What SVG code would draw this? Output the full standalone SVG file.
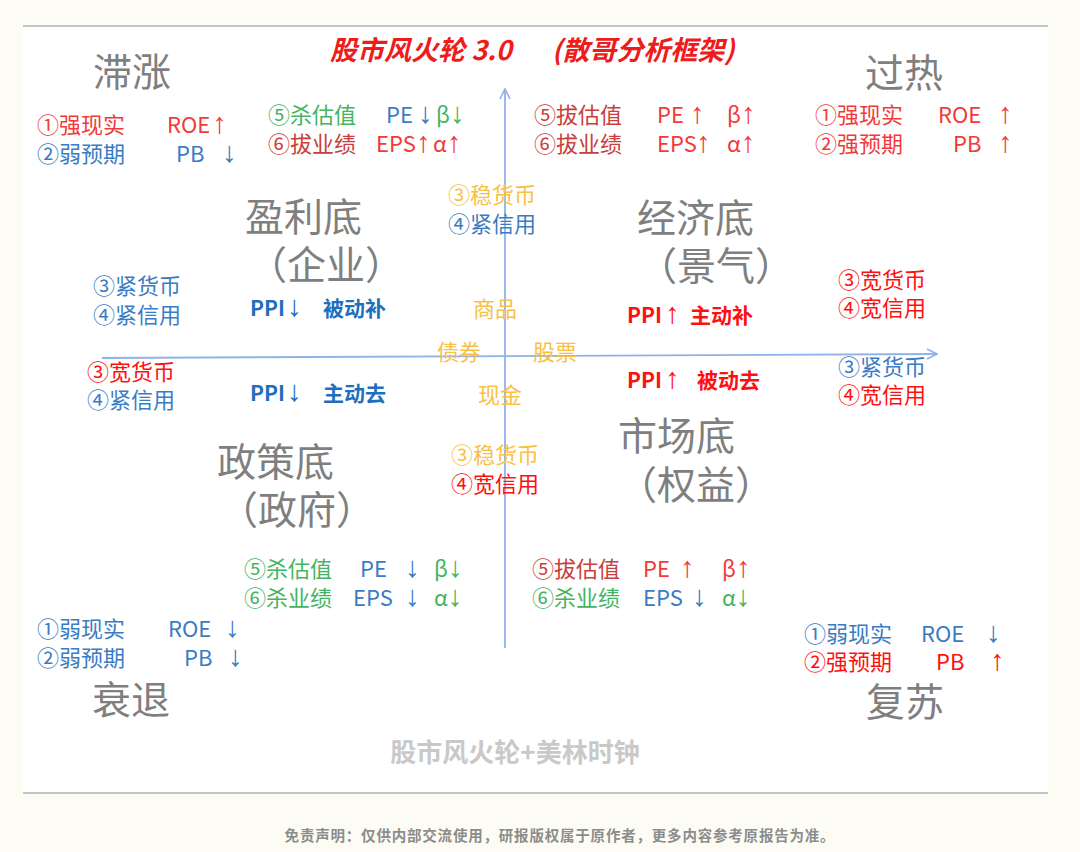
<svg xmlns="http://www.w3.org/2000/svg" width="1080" height="852" viewBox="0 0 1080 852">
<style>
text{font-family:"Noto Sans CJK SC","Noto Sans",sans-serif;}
.big{font-size:39px;fill:#7f7f7f;}
.s{font-size:22px;}
.b{font-size:21px;font-weight:bold;}
.r{fill:#f23a3a;}
.rr{fill:#ff1010;}
.dr{fill:#c8403c;}
.bl{fill:#3a7cc4;}
.bb{fill:#1f6fbf;}
.g{fill:#45b45e;}
.o{fill:#f8c146;}
.ar,.s.ar{font-family:"Liberation Sans","DejaVu Sans",sans-serif;font-size:29px;font-weight:normal;}
.axis{stroke:#8fb2e6;stroke-width:1.8;fill:none;}
</style>
<defs>
<marker id="ah" viewBox="0 0 12 12" refX="11" refY="6" markerWidth="12" markerHeight="12" markerUnits="userSpaceOnUse" orient="auto">
<path d="M1,1 L11,6 L1,11" fill="none" stroke="#8fb2e6" stroke-width="1.6"/>
</marker>
</defs>
<rect x="0" y="0" width="1080" height="852" fill="#fdfcf4"/>
<rect x="23" y="26" width="1025" height="767" fill="#ffffff"/>
<line x1="23" y1="26" x2="1048" y2="26" stroke="#c4c4c4" stroke-width="2"/>
<line x1="23" y1="793" x2="1048" y2="793" stroke="#c4c4c4" stroke-width="2"/>

<g id="connectors">
<line class="axis" x1="505" y1="648" x2="505" y2="89" marker-end="url(#ah)"/>
<line class="axis" x1="102" y1="358" x2="937" y2="354" marker-end="url(#ah)"/>
</g>

<g id="title">
<text x="330" y="60" font-size="27" font-weight="bold" font-style="italic" fill="#ee1c1c">股市风火轮 3.0</text>
<text x="552" y="60" font-size="27" font-weight="bold" font-style="italic" fill="#ee1c1c">(散哥分析框架)</text>
</g>

<g id="stagflation">
<text class="big" x="93" y="86">滞涨</text>
<text class="s r" x="37" y="133">①强现实</text>
<text class="s r" x="167" y="133">ROE<tspan class="ar" dx="2">↑</tspan></text>
<text class="s bl" x="37" y="162">②弱预期</text>
<text class="s bl" x="176" y="162">PB</text>
<text class="s bl ar" x="222" y="162">↓</text>
</g>

<g id="top-left-val">
<text class="s g" x="268" y="123">⑤杀估值</text>
<text class="s bl" x="386" y="123">PE</text>
<text class="s bl ar" x="418" y="123">↓</text>
<text class="s g" x="436" y="123">β<tspan class="ar">↓</tspan></text>
<text class="s dr" x="268" y="152">⑥拔业绩</text>
<text class="s r" x="376" y="152">EPS</text>
<text class="s r ar" x="416" y="152">↑</text>
<text class="s r" x="433" y="152">α<tspan class="ar">↑</tspan></text>
</g>

<g id="top-right-val">
<text class="s dr" x="534" y="123">⑤拔估值</text>
<text class="s r" x="657" y="123">PE</text>
<text class="s r ar" x="690" y="123">↑</text>
<text class="s r" x="727" y="123">β<tspan class="ar">↑</tspan></text>
<text class="s dr" x="534" y="152">⑥拔业绩</text>
<text class="s r" x="657" y="152">EPS</text>
<text class="s r ar" x="696" y="152">↑</text>
<text class="s r" x="727" y="152">α<tspan class="ar">↑</tspan></text>
</g>

<g id="overheat">
<text class="big" x="865" y="87">过热</text>
<text class="s r" x="815" y="123">①强现实</text>
<text class="s r" x="938" y="123">ROE</text>
<text class="s r ar" x="998" y="123">↑</text>
<text class="s r" x="815" y="152">②强预期</text>
<text class="s r" x="953" y="152">PB</text>
<text class="s r ar" x="998" y="152">↑</text>
</g>

<g id="profit-bottom">
<text class="big" x="245" y="231">盈利底</text>
<text class="big" x="248" y="279">（企业）</text>
<text class="b bb" x="250" y="316">PPI<tspan class="ar" dx="2">↓</tspan></text>
<text class="b bb" x="323" y="316">被动补</text>
<text class="b bb" x="250" y="401">PPI<tspan class="ar" dx="2">↓</tspan></text>
<text class="b bb" x="323" y="401">主动去</text>
</g>

<g id="top-center">
<text class="s o" x="448" y="203">③稳货币</text>
<text class="s bl" x="448" y="232">④紧信用</text>
</g>

<g id="left-policy">
<text class="s bl" x="93" y="294">③紧货币</text>
<text class="s bl" x="93" y="323">④紧信用</text>
<text class="s rr" x="87" y="380">③宽货币</text>
<text class="s bl" x="87" y="408">④紧信用</text>
</g>

<g id="assets">
<text class="s o" x="473" y="317">商品</text>
<text class="s o" x="437" y="360">债券</text>
<text class="s o" x="533" y="360">股票</text>
<text class="s o" x="478" y="403">现金</text>
</g>

<g id="economy-bottom">
<text class="big" x="637" y="232">经济底</text>
<text class="big" x="638" y="280">（景气）</text>
<text class="b rr" x="627" y="323">PPI<tspan class="ar" dx="3">↑</tspan></text>
<text class="b rr" x="690" y="323">主动补</text>
<text class="b rr" x="627" y="388">PPI<tspan class="ar" dx="3">↑</tspan></text>
<text class="b rr" x="697" y="388">被动去</text>
</g>

<g id="right-policy">
<text class="s rr" x="838" y="288">③宽货币</text>
<text class="s rr" x="838" y="316">④宽信用</text>
<text class="s bl" x="838" y="375">③紧货币</text>
<text class="s rr" x="838" y="403">④宽信用</text>
</g>

<g id="policy-bottom">
<text class="big" x="217" y="476">政策底</text>
<text class="big" x="219" y="524">（政府）</text>
</g>

<g id="bottom-center">
<text class="s o" x="451" y="463">③稳货币</text>
<text class="s rr" x="451" y="492">④宽信用</text>
</g>

<g id="market-bottom">
<text class="big" x="618" y="450">市场底</text>
<text class="big" x="618" y="499">（权益）</text>
</g>

<g id="bottom-left-val">
<text class="s g" x="244" y="577">⑤杀估值</text>
<text class="s bl" x="360" y="577">PE</text>
<text class="s bl ar" x="405" y="577">↓</text>
<text class="s g" x="434" y="577">β<tspan class="ar">↓</tspan></text>
<text class="s g" x="244" y="606">⑥杀业绩</text>
<text class="s bl" x="353" y="606">EPS</text>
<text class="s bl ar" x="405" y="606">↓</text>
<text class="s g" x="434" y="606">α<tspan class="ar">↓</tspan></text>
</g>

<g id="bottom-right-val">
<text class="s dr" x="532" y="577">⑤拔估值</text>
<text class="s r" x="643" y="577">PE</text>
<text class="s r ar" x="680" y="577">↑</text>
<text class="s r" x="722" y="577">β<tspan class="ar">↑</tspan></text>
<text class="s g" x="532" y="606">⑥杀业绩</text>
<text class="s bl" x="643" y="606">EPS</text>
<text class="s bl ar" x="692" y="606">↓</text>
<text class="s g" x="722" y="606">α<tspan class="ar">↓</tspan></text>
</g>

<g id="recession">
<text class="s bl" x="37" y="637">①弱现实</text>
<text class="s bl" x="168" y="637">ROE</text>
<text class="s bl ar" x="225" y="637">↓</text>
<text class="s bl" x="37" y="666">②弱预期</text>
<text class="s bl" x="184" y="666">PB</text>
<text class="s bl ar" x="228" y="666">↓</text>
<text class="big" x="92" y="714">衰退</text>
</g>

<g id="recovery">
<text class="s bl" x="804" y="642">①弱现实</text>
<text class="s bl" x="921" y="642">ROE</text>
<text class="s bl ar" x="986" y="642">↓</text>
<text class="s rr" x="804" y="670">②强预期</text>
<text class="s rr" x="936" y="670">PB</text>
<text class="s rr ar" x="990" y="670">↑</text>
<text class="big" x="866" y="716">复苏</text>
</g>

<g id="caption">
<text x="515" y="762" font-size="26" font-weight="bold" fill="#c9c9c9" text-anchor="middle">股市风火轮+美林时钟</text>
<text x="560" y="841" font-size="14.5" font-weight="bold" fill="#8c8c8c" text-anchor="middle" letter-spacing="0.8">免责声明：仅供内部交流使用，研报版权属于原作者，更多内容参考原报告为准。</text>
</g>
</svg>
